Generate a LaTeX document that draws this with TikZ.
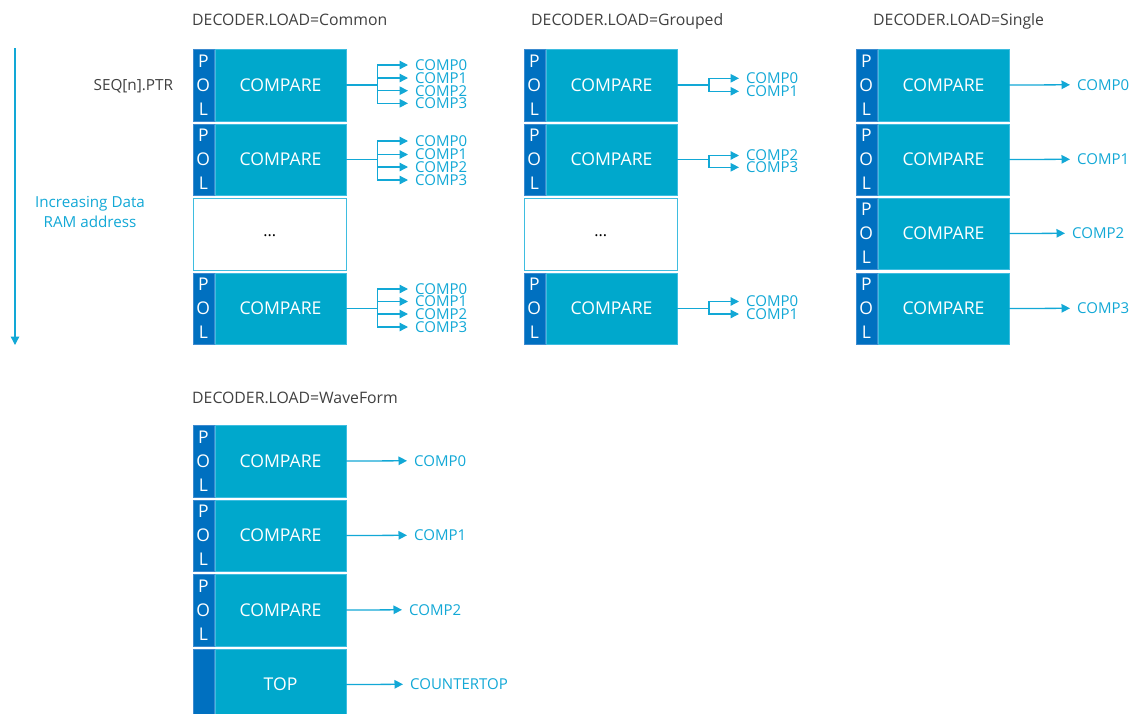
\documentclass[tikz,border=0pt]{standalone}
\usepackage{fontspec}
\setmainfont{Open Sans}
\usetikzlibrary{arrows.meta}
\definecolor{polblue}{HTML}{0070C0}
\definecolor{polborder}{HTML}{3D8BD0}
\definecolor{cmpcyan}{HTML}{00A8CC}
\definecolor{cmpborder}{HTML}{3EBDE0}
\definecolor{linecyan}{HTML}{12A8D6}
\definecolor{darktext}{HTML}{404040}
\tikzset{
  pol/.style={fill=polblue, draw=polborder, line width=0.6pt, minimum width=21pt, minimum height=71.5pt,
    inner sep=0pt, anchor=north west, text=white, align=center, font=\fontsize{17.5}{24}\selectfont},
  cmp/.style={fill=cmpcyan, draw=cmpborder, line width=0.6pt, minimum width=130.5pt, minimum height=71.5pt,
    inner sep=0pt, anchor=north west, text=white, font=\fontsize{17.6}{20}\selectfont},
  dotbox/.style={fill=white, draw=cmpborder, line width=1.3pt, minimum width=153pt, minimum height=72pt,
    inner sep=0pt, anchor=north west, text=black, font=\fontsize{16}{18}\selectfont},
  lab/.style={anchor=west, inner sep=0pt, text=linecyan, font=\fontsize{15}{15}\selectfont},
  title/.style={anchor=base west, inner sep=0pt, text=darktext, font=\fontsize{15.8}{18}\selectfont},
  ln/.style={draw=linecyan, line width=1.3pt},
  arr/.style={ln, -{Triangle[length=8.5pt,width=8.5pt]}, shorten >=7pt},
}
\begin{document}
\begin{tikzpicture}[x=1pt,y=-1pt]
\useasboundingbox (0,0) rectangle (1130,713);

% titles
\node[title] (t1) at (192,25.5) {DECODER.LOAD=Common};
\node[title] (t2) at (531,25.5) {DECODER.LOAD=Grouped};
\node[title] (t3) at (873,25.5) {DECODER.LOAD=Single};
\node[title] (t4) at (192,403.3) {DECODER.LOAD=WaveForm};
\node[anchor=base east, inner sep=0pt, text=darktext, font=\fontsize{15.3}{18}\selectfont] (seq) at (173.3,90.7) {SEQ[n].PTR};
\node[align=center, inner sep=0pt, text=linecyan, font=\fontsize{15.2}{20.6}\selectfont] (inc) at (90,212) {Increasing Data\\RAM address};

% left arrow
\coordinate (ltop) at (15,48);
\coordinate (lbot) at (15,345);
\draw[ln, -{Triangle[length=8.5pt,width=8.5pt]}] (ltop) -- (lbot);

% ===== Column 1: Common =====
\node[pol] (a1p) at (192.5,49) {P\\O\\L};
\node[cmp] (a1c) at (215,49) {COMPARE};
\node[pol] (a2p) at (192.5,123.5) {P\\O\\L};
\node[cmp] (a2c) at (215,123.5) {COMPARE};
\node[dotbox] (a3d) at (192.5,197.5) {\raisebox{-5pt}{...}};
\node[pol] (a4p) at (192.5,272.5) {P\\O\\L};
\node[cmp] (a4c) at (215,272.5) {COMPARE};

\draw[ln] (a1c.east) -- ++(31.5,0) coordinate (a1j);
\node[lab] (a1l0) at (415,65) {COMP0};
\node[lab] (a1l1) at (415,78) {COMP1};
\node[lab] (a1l2) at (415,90.7) {COMP2};
\node[lab] (a1l3) at (415,103.3) {COMP3};
\foreach \k in {0,1,2,3} \draw[arr] (a1j) |- (a1l\k.west);

\draw[ln] (a2c.east) -- ++(31.5,0) coordinate (a2j);
\node[lab] (a2l0) at (415,141) {COMP0};
\node[lab] (a2l1) at (415,154.5) {COMP1};
\node[lab] (a2l2) at (415,167) {COMP2};
\node[lab] (a2l3) at (415,180) {COMP3};
\foreach \k in {0,1,2,3} \draw[arr] (a2j) |- (a2l\k.west);

\draw[ln] (a4c.east) -- ++(31.5,0) coordinate (a4j);
\node[lab] (a4l0) at (415,289) {COMP0};
\node[lab] (a4l1) at (415,301.5) {COMP1};
\node[lab] (a4l2) at (415,314) {COMP2};
\node[lab] (a4l3) at (415,327) {COMP3};
\foreach \k in {0,1,2,3} \draw[arr] (a4j) |- (a4l\k.west);

% ===== Column 2: Grouped =====
\node[pol] (b1p) at (523.5,49) {P\\O\\L};
\node[cmp] (b1c) at (546,49) {COMPARE};
\node[pol] (b2p) at (523.5,123.5) {P\\O\\L};
\node[cmp] (b2c) at (546,123.5) {COMPARE};
\node[dotbox] (b3d) at (523.5,197.5) {\raisebox{-5pt}{...}};
\node[pol] (b4p) at (523.5,272.5) {P\\O\\L};
\node[cmp] (b4c) at (546,272.5) {COMPARE};

\draw[ln] (b1c.east) -- ++(32,0) coordinate (b1j);
\node[lab] (b1l0) at (746,78.3) {COMP0};
\node[lab] (b1l1) at (746,91.3) {COMP1};
\foreach \k in {0,1} \draw[arr] (b1j) |- (b1l\k.west);

\draw[ln] (b2c.east) -- ++(32,0) coordinate (b2j);
\node[lab] (b2l0) at (746,155.5) {COMP2};
\node[lab] (b2l1) at (746,167.3) {COMP3};
\foreach \k in {0,1} \draw[arr] (b2j) |- (b2l\k.west);

\draw[ln] (b4c.east) -- ++(32,0) coordinate (b4j);
\node[lab] (b4l0) at (746,301.5) {COMP0};
\node[lab] (b4l1) at (746,314) {COMP1};
\foreach \k in {0,1} \draw[arr] (b4j) |- (b4l\k.west);

% ===== Column 3: Single =====
\node[pol] (c1p) at (855.5,49) {P\\O\\L};
\node[cmp] (c1c) at (878,49) {COMPARE};
\node[pol] (c2p) at (855.5,123.5) {P\\O\\L};
\node[cmp] (c2c) at (878,123.5) {COMPARE};
\node[pol] (c3p) at (855.5,197.5) {P\\O\\L};
\node[cmp] (c3c) at (878,197.5) {COMPARE};
\node[pol] (c4p) at (855.5,272.5) {P\\O\\L};
\node[cmp] (c4c) at (878,272.5) {COMPARE};

\node[lab] (c1l) at (1077,84.75) {COMP0};
\node[lab] (c2l) at (1077,159.25) {COMP1};
\node[lab] (c3l) at (1072,233.25) {COMP2};
\node[lab] (c4l) at (1077,308.25) {COMP3};
\draw[arr] (c1c.east) -- (c1l.west);
\draw[arr] (c2c.east) -- (c2l.west);
\draw[arr] (c3c.east) -- (c3l.west);
\draw[arr] (c4c.east) -- (c4l.west);

% ===== WaveForm =====
\node[pol] (d1p) at (192.5,425) {P\\O\\L};
\node[cmp] (d1c) at (215,425) {COMPARE};
\node[pol] (d2p) at (192.5,499.5) {P\\O\\L};
\node[cmp] (d2c) at (215,499.5) {COMPARE};
\node[pol] (d3p) at (192.5,574) {P\\O\\L};
\node[cmp] (d3c) at (215,574) {COMPARE};
\node[pol] (d4p) at (192.5,648.5) {};
\node[cmp] (d4c) at (215,648.5) {TOP};

\node[lab] (d1l) at (414,460.75) {COMP0};
\node[lab] (d2l) at (414,535.25) {COMP1};
\node[lab] (d3l) at (409,609.75) {COMP2};
\node[lab] (d4l) at (410,684.25) {COUNTERTOP};
\draw[arr] (d1c.east) -- (d1l.west);
\draw[arr] (d2c.east) -- (d2l.west);
\draw[arr] (d3c.east) -- (d3l.west);
\draw[arr] (d4c.east) -- (d4l.west);
\end{tikzpicture}
\end{document}
